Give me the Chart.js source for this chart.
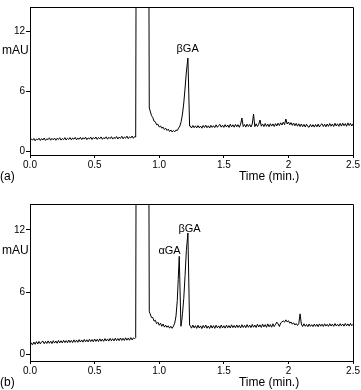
<!DOCTYPE html>
<html>
<head>
<meta charset="utf-8">
<script src="https://cdn.jsdelivr.net/npm/chart.js@4.4.1/dist/chart.umd.min.js"></script>
<style>
  body { margin: 0; background: #fff; }
  canvas { position: absolute; left: 0; }
  #graficaA { top: 0; }
  #graficaB { top: 192px; }
</style>
</head>
<body>
<canvas id="graficaA" width="361" height="192"></canvas>
<canvas id="graficaB" width="361" height="198"></canvas>
<script>
// ejes
const ticksX = [0, 0.5, 1, 1.5, 2, 2.5];
const etiquetasX = ["0.0", "0.5", "1.0", "1.5", "2", "2.5"];
const ticksY = [0, 6, 12];
const paso = 0.01; // intervalo de muestreo del detector (min)

// (a) linea base antes del pico de solvente, t = 0.00 .. 0.81
const a_inicio = [
  1.00, 1.22, 1.08, 1.25, 1.02, 1.20, 1.12, 1.28, 1.05, 1.24,
  1.10, 1.30, 1.06, 1.22, 1.14, 1.32, 1.08, 1.26, 1.12, 1.29,
  1.07, 1.27, 1.15, 1.33, 1.09, 1.25, 1.13, 1.34, 1.10, 1.28,
  1.16, 1.35, 1.11, 1.30, 1.18, 1.36, 1.12, 1.29, 1.17, 1.37,
  1.14, 1.33, 1.19, 1.38, 1.13, 1.31, 1.20, 1.39, 1.15, 1.34,
  1.21, 1.40, 1.16, 1.35, 1.22, 1.41, 1.17, 1.33, 1.23, 1.42,
  1.18, 1.37, 1.24, 1.43, 1.19, 1.36, 1.25, 1.45, 1.20, 1.39,
  1.26, 1.47, 1.22, 1.40, 1.28, 1.49, 1.23, 1.42, 1.30, 1.50,
  1.27, 1.45
];
// (a) solvente + pico beta
const a_picoT = [0.818, 0.825, 0.915, 0.923,
  0.93, 0.94, 0.95, 0.96, 0.97, 0.98, 0.99, 1.00, 1.01, 1.02,
  1.03, 1.04, 1.05, 1.06, 1.07, 1.08, 1.09, 1.10, 1.11, 1.12,
  1.13, 1.14, 1.15, 1.16, 1.17, 1.18, 1.19, 1.20, 1.21,
  1.222, 1.235];
const a_picoY = [1.40, 40, 40, 4.3,
  4.0, 3.55, 3.35, 2.98, 2.92, 2.62, 2.68, 2.4, 2.5, 2.28,
  2.38, 2.15, 2.28, 2.05, 2.18, 1.95, 2.1, 1.9, 2.05, 1.92,
  2.1, 2.05, 2.3, 2.5, 2.95, 3.7, 4.8, 6.3, 7.9,
  9.3, 2.5];
// (a) linea base final, t = 1.24 .. 2.50
const a_final = [
  2.50, 2.30, 2.55, 2.33, 2.52, 2.31,
  2.54, 2.32, 2.50, 2.28, 2.56, 2.35, 2.58, 2.33, 2.52, 2.30,
  2.57, 2.36, 2.53, 2.34, 2.62, 2.37, 2.55, 2.66, 2.38, 2.58,
  2.36, 2.64, 2.40, 2.60, 2.35, 2.68, 2.41, 2.62, 2.38, 2.66,
  2.42, 2.63, 2.37, 2.69, 3.30, 2.44, 2.65, 2.39, 2.68, 2.45,
  2.66, 2.40, 2.70, 3.70, 2.43, 2.72, 2.45, 2.67, 3.10, 2.48,
  2.70, 2.44, 2.74, 2.47, 2.69, 2.42, 2.73, 2.49, 2.71, 2.45,
  2.74, 2.50, 2.78, 2.55, 2.82, 2.60, 2.88, 2.64, 3.20, 2.70,
  2.90, 2.62, 2.84, 2.56, 2.80, 2.52, 2.76, 2.48, 2.72, 2.44,
  2.70, 2.43, 2.66, 2.40, 2.68, 2.44, 2.38, 2.66, 2.41, 2.63,
  2.39, 2.65, 2.42, 2.69, 2.40, 2.63, 2.72, 2.44, 2.68, 2.42,
  2.70, 2.46, 2.75, 2.48, 2.70, 2.45, 2.77, 2.50, 2.72, 2.47,
  2.76, 2.49, 2.79, 2.52, 2.74, 2.47, 2.81, 2.54, 2.77, 2.50, 2.72
];

// (b) linea base antes del pico de solvente, t = 0.00 .. 0.81
const b_inicio = [
  0.70, 1.10, 0.92, 1.18, 0.96, 1.22, 0.99, 1.24, 1.01, 1.20,
  1.27, 1.02, 1.24, 1.04, 1.29, 1.06, 1.26, 1.03, 1.31, 1.08,
  1.28, 1.06, 1.33, 1.10, 1.30, 1.09, 1.35, 1.12, 1.32, 1.11,
  1.37, 1.14, 1.34, 1.13, 1.39, 1.16, 1.36, 1.15, 1.41, 1.18,
  1.38, 1.17, 1.43, 1.20, 1.40, 1.19, 1.45, 1.22, 1.42, 1.21,
  1.47, 1.24, 1.44, 1.23, 1.49, 1.26, 1.46, 1.25, 1.51, 1.28,
  1.48, 1.27, 1.53, 1.30, 1.50, 1.29, 1.55, 1.32, 1.52, 1.31,
  1.57, 1.34, 1.54, 1.33, 1.59, 1.36, 1.56, 1.35, 1.61, 1.38,
  1.58, 1.50
];
// (b) solvente + picos alfa y beta
const b_picoT = [0.818, 0.825, 0.915, 0.923,
  0.93, 0.94, 0.95, 0.96, 0.97, 0.98, 0.99, 1.00, 1.01, 1.02, 1.03,
  1.04, 1.05, 1.06, 1.07, 1.08, 1.09, 1.10, 1.11, 1.12, 1.13, 1.14,
  1.147, 1.155, 1.168, 1.175, 1.18, 1.19, 1.20, 1.21, 1.222, 1.235];
const b_picoY = [1.60, 40, 40, 4.1,
  3.9, 3.55, 3.55, 3.2, 3.28, 2.95, 3.08, 2.8, 3.0, 2.7, 2.92,
  2.62, 2.8, 2.6, 2.75, 2.52, 2.7, 2.5, 2.7, 3.0, 3.7, 5.2,
  7.2, 9.45, 2.7, 3.3, 3.9, 5.4, 7.6, 10.0, 11.7, 2.8];
// (b) linea base final, t = 1.24 .. 2.50
const b_final = [
  2.78, 2.52, 2.82, 2.55, 2.76, 2.50,
  2.80, 2.53, 2.74, 2.48, 2.78, 2.55, 2.82, 2.51, 2.73, 2.49,
  2.79, 2.53, 2.76, 2.50, 2.80, 2.55, 2.74, 2.51, 2.82, 2.54,
  2.75, 2.52, 2.81, 2.56, 2.77, 2.53, 2.84, 2.57, 2.78, 2.55,
  2.83, 2.58, 2.79, 2.54, 2.85, 2.59, 2.80, 2.56, 2.86, 2.60,
  2.81, 2.57, 2.88, 2.61, 2.82, 2.58, 2.90, 2.63, 2.84, 2.59,
  2.91, 2.64, 2.86, 2.60, 2.93, 2.65, 2.87, 2.61, 2.94, 2.67,
  2.88, 3.10, 2.92, 2.68, 3.02, 3.12, 3.22, 3.10, 3.32, 3.12,
  3.24, 3.00, 3.12, 2.90, 3.04, 2.82, 2.96, 2.78, 2.94, 3.90,
  2.92, 2.68, 2.94, 2.70, 2.88, 2.66, 2.92, 2.69, 2.86, 2.67,
  2.91, 2.70, 2.89, 2.66, 2.93, 2.71, 2.90, 2.68, 2.94, 2.72,
  2.89, 2.69, 2.95, 2.72, 2.91, 2.70, 2.96, 2.73, 2.90, 2.71,
  2.95, 2.74, 2.92, 2.71, 2.97, 2.75, 2.93, 2.72, 2.98, 2.76, 2.90
];

// etiquetas de picos (nombre, tiempo, altura del texto)
const picosA = ["βGA"];
const picosA_t = [1.22];
const picosA_y = [10.2];
const picosB = ["αGA", "βGA"];
const picosB_t = [1.08, 1.235];
const picosB_y = [10.0, 12.1];

const fuente = "'Liberation Sans', Arial, Helvetica, sans-serif";

function armarSerie(inicio, picoT, picoY, final) {
  const puntos = [];
  inicio.forEach((v, i) => puntos.push({ x: +(i * paso).toFixed(3), y: v }));
  picoT.forEach((t, i) => puntos.push({ x: t, y: picoY[i] }));
  final.forEach((v, i) => puntos.push({ x: +(1.24 + i * paso).toFixed(3), y: v }));
  return puntos;
}

// marco completo + textos
const marco = {
  id: "marco",
  afterDraw(chart, args, opts) {
    const { ctx, chartArea: a, scales } = chart;
    ctx.save();
    ctx.strokeStyle = "#000";
    ctx.lineWidth = 1;
    ctx.beginPath();
    ctx.moveTo(Math.round(a.left) + 0.5, Math.round(a.top) + 0.5);
    ctx.lineTo(Math.round(a.right) + 0.5, Math.round(a.top) + 0.5);
    ctx.lineTo(Math.round(a.right) + 0.5, Math.round(a.bottom) + 0.5);
    ctx.stroke();

    ctx.fillStyle = "#000";
    ctx.textBaseline = "middle";
    ctx.font = "12px " + fuente;
    ctx.textAlign = "left";
    ctx.fillText("mAU", 2, scales.y.getPixelForValue(10));
    ctx.fillText(opts.panel, 0, a.bottom + 22);
    ctx.textAlign = "center";
    ctx.fillText("Time (min.)", scales.x.getPixelForValue(1.85), a.bottom + 22);

    ctx.font = "11px " + fuente;
    opts.nombres.forEach((n, i) => {
      ctx.fillText(n, scales.x.getPixelForValue(opts.t[i]), scales.y.getPixelForValue(opts.y[i]));
    });
    ctx.restore();
  }
};

function crearGrafica(id, datos, yMin, yMax, padTop, altoX, panel, nombres, t, y) {
  const ctx = document.getElementById(id).getContext("2d");
  return new Chart(ctx, {
    type: "line",
    data: {
      datasets: [{
        data: datos,
        borderColor: "#000",
        borderWidth: 1,
        pointRadius: 0,
        tension: 0,
        fill: false
      }]
    },
    options: {
      responsive: false,
      animation: false,
      events: [],
      layout: { padding: { top: padTop, right: 5, left: 0, bottom: 0 } },
      plugins: {
        legend: { display: false },
        tooltip: { enabled: false },
        marco: { panel: panel, nombres: nombres, t: t, y: y }
      },
      scales: {
        x: {
          type: "linear",
          min: 0,
          max: 2.5,
          afterBuildTicks: s => { s.ticks = ticksX.map(v => ({ value: v })); },
          afterFit: s => { s.height = altoX; },
          ticks: {
            color: "#000",
            font: { size: 10, family: fuente },
            padding: 1,
            maxRotation: 0,
            callback: v => etiquetasX[ticksX.indexOf(v)]
          },
          grid: { drawOnChartArea: false, color: "#000", tickLength: 3 },
          border: { color: "#000", width: 1 }
        },
        y: {
          min: yMin,
          max: yMax,
          afterBuildTicks: s => { s.ticks = ticksY.map(v => ({ value: v })); },
          afterFit: s => { s.width = 30; },
          ticks: {
            color: "#000",
            font: { size: 10, family: fuente },
            padding: 1,
            callback: v => String(v)
          },
          grid: { drawOnChartArea: false, color: "#000", tickLength: 4 },
          border: { color: "#000", width: 1 }
        }
      }
    },
    plugins: [marco]
  });
}

document.addEventListener("DOMContentLoaded", () => {
  crearGrafica("graficaA", armarSerie(a_inicio, a_picoT, a_picoY, a_final),
    -0.4, 14.4, 1, 37, "(a)", picosA, picosA_t, picosA_y);
  crearGrafica("graficaB", armarSerie(b_inicio, b_picoT, b_picoY, b_final),
    -0.65, 14.5, 12, 29, "(b)", picosB, picosB_t, picosB_y);
});
</script>
</body>
</html>
